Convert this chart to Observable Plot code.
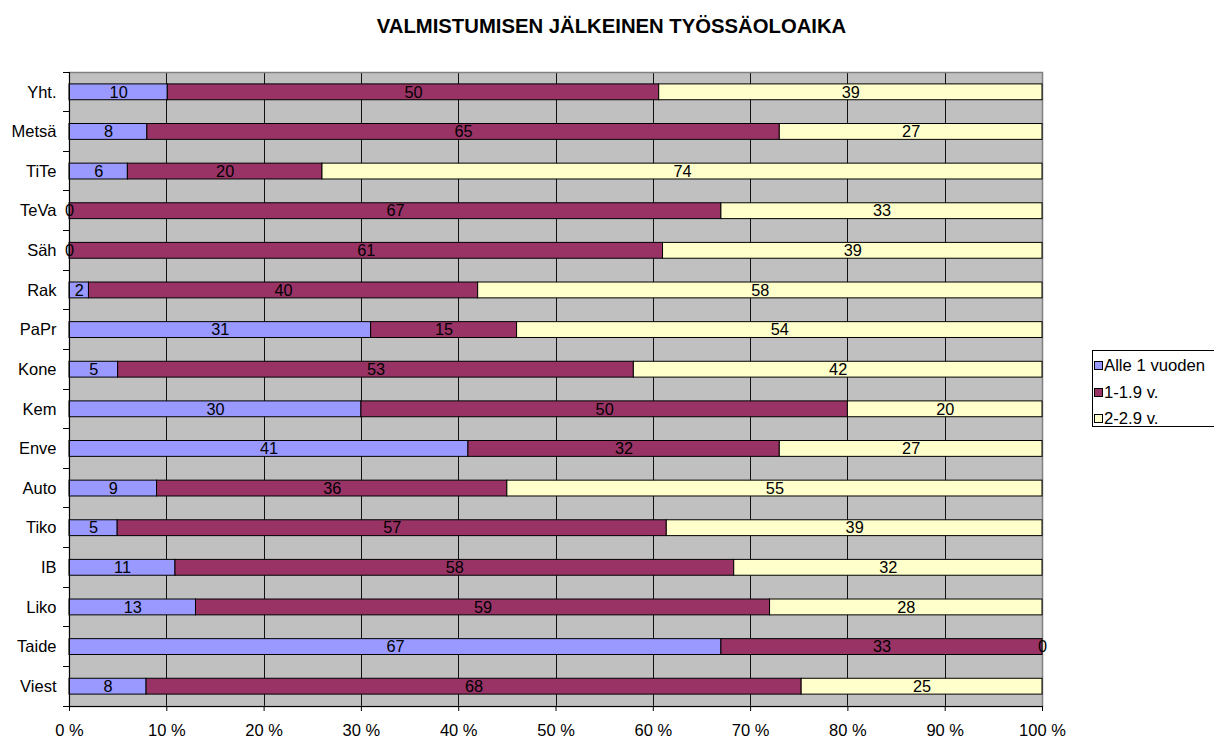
<!DOCTYPE html>
<html>
<head>
<meta charset="utf-8">
<script src="https://cdn.jsdelivr.net/npm/d3@7"></script>
<script src="https://cdn.jsdelivr.net/npm/@observablehq/plot@0.6"></script>
<style>
  html, body { margin: 0; padding: 0; overflow: hidden; background: #fff; }
  #wrap { position: relative; width: 1214px; height: 738px; overflow: hidden; font-family: "Liberation Sans", Arial, sans-serif; }
  #title { position: absolute; left: 0; width: 1223px; top: 16px; text-align: center; font-weight: bold; font-size: 20.3px; line-height: 20px; color: #000; }
  #chart { position: absolute; left: 0; top: 0; }
  #legend { position: absolute; left: 1092px; top: 350px; width: 200px; height: 77px; border: 1px solid #000; border-right: none; background: #fff; box-sizing: border-box; }
  .item { position: absolute; left: 1px; font-size: 16.7px; line-height: 17px; white-space: nowrap; color: #000; }
  .sw { display: inline-block; width: 7px; height: 7px; border: 1px solid #000; margin-right: 1px; vertical-align: 1px; }
</style>
</head>
<body>
<div id="wrap">
  <div id="chart"></div>
  <div id="title">VALMISTUMISEN JÄLKEINEN TYÖSSÄOLOAIKA</div>
  <div id="legend"></div>
</div>
<script>
const categories = ["Yht.", "Metsä", "TiTe", "TeVa", "Säh", "Rak", "PaPr", "Kone", "Kem", "Enve", "Auto", "Tiko", "IB", "Liko", "Taide", "Viest"];
const seriesNames = ["Alle 1 vuoden", "1-1.9 v.", "2-2.9 v."];
const alle1 = [10, 8, 6, 0, 0, 2, 31, 5, 30, 41, 9, 5, 11, 13, 67, 8];
const v1to19 = [50, 65, 20, 67, 61, 40, 15, 53, 50, 32, 36, 57, 58, 59, 33, 68];
const v2to29 = [39, 27, 74, 33, 39, 58, 54, 42, 20, 27, 55, 39, 32, 28, 0, 25];
const seriesColors = ["#9999ff", "#993366", "#ffffcc"];
const xTicks = [0, 10, 20, 30, 40, 50, 60, 70, 80, 90, 100];

const seriesValues = [alle1, v1to19, v2to29];
const data = categories.flatMap((c, i) =>
  seriesNames.map((s, j) => ({cat: c, series: s, value: seriesValues[j][i]}))
);

const plot = Plot.plot({
  width: 1214,
  height: 738,
  marginLeft: 69,
  marginRight: 172,
  marginTop: 72,
  marginBottom: 32,
  style: {fontFamily: "'Liberation Sans', Arial, sans-serif", fontSize: "16.5px", background: "transparent", color: "#000"},
  x: {domain: [0, 1], label: null},
  y: {domain: categories, paddingInner: 0.6, paddingOuter: 0.3, round: false, label: null},
  color: {domain: seriesNames, range: seriesColors},
  marks: [
    Plot.frame({fill: "#c0c0c0", stroke: null}),
    Plot.ruleX(xTicks.slice(1, -1).map(t => t / 100), {stroke: "#111", strokeWidth: 1, shapeRendering: "crispEdges"}),
    Plot.frame({stroke: "#808080", strokeWidth: 1.5}),
    Plot.barX(data, Plot.stackX({offset: "normalize", x: "value", y: "cat", z: "series", fill: "series", stroke: "#000", strokeWidth: 1})),
    Plot.text(data, Plot.stackX({offset: "normalize", x: "value", y: "cat", z: "series", text: d => String(d.value), fill: "#000", fontSize: 16.3})),
    Plot.axisX({ticks: xTicks.map(t => t / 100), tickFormat: d => Math.round(d * 100) + " %", tickSize: 5, tickPadding: 13, label: null, stroke: "#000"}),
    Plot.axisY({tickSize: 0, tickPadding: 13, label: null})
  ]
});
document.getElementById("chart").appendChild(plot);

// Category-boundary tick marks and axis lines (Excel style), positioned from Plot's scales
const xs = plot.scale("x").range;
const ys = plot.scale("y").range;
const svg = d3.select(plot);
const g = svg.append("g").attr("stroke", "#000").attr("stroke-width", 1).attr("shape-rendering", "crispEdges");
const n = categories.length;
for (let i = 0; i <= n; i++) {
  const yy = ys[0] + i * (ys[1] - ys[0]) / n;
  g.append("line").attr("x1", xs[0] - 6).attr("x2", xs[0]).attr("y1", yy).attr("y2", yy);
}
g.append("line").attr("x1", xs[0]).attr("x2", xs[0]).attr("y1", ys[0]).attr("y2", ys[1]);
g.append("line").attr("x1", xs[0]).attr("x2", xs[1]).attr("y1", ys[1]).attr("y2", ys[1]);

// Legend
const legend = d3.select("#legend");
seriesNames.forEach((s, j) => {
  const it = legend.append("div").attr("class", "item").style("top", (6 + j * 26.5) + "px");
  it.append("span").attr("class", "sw").style("background", seriesColors[j]);
  it.append("span").text(s);
});
</script>
</body>
</html>
